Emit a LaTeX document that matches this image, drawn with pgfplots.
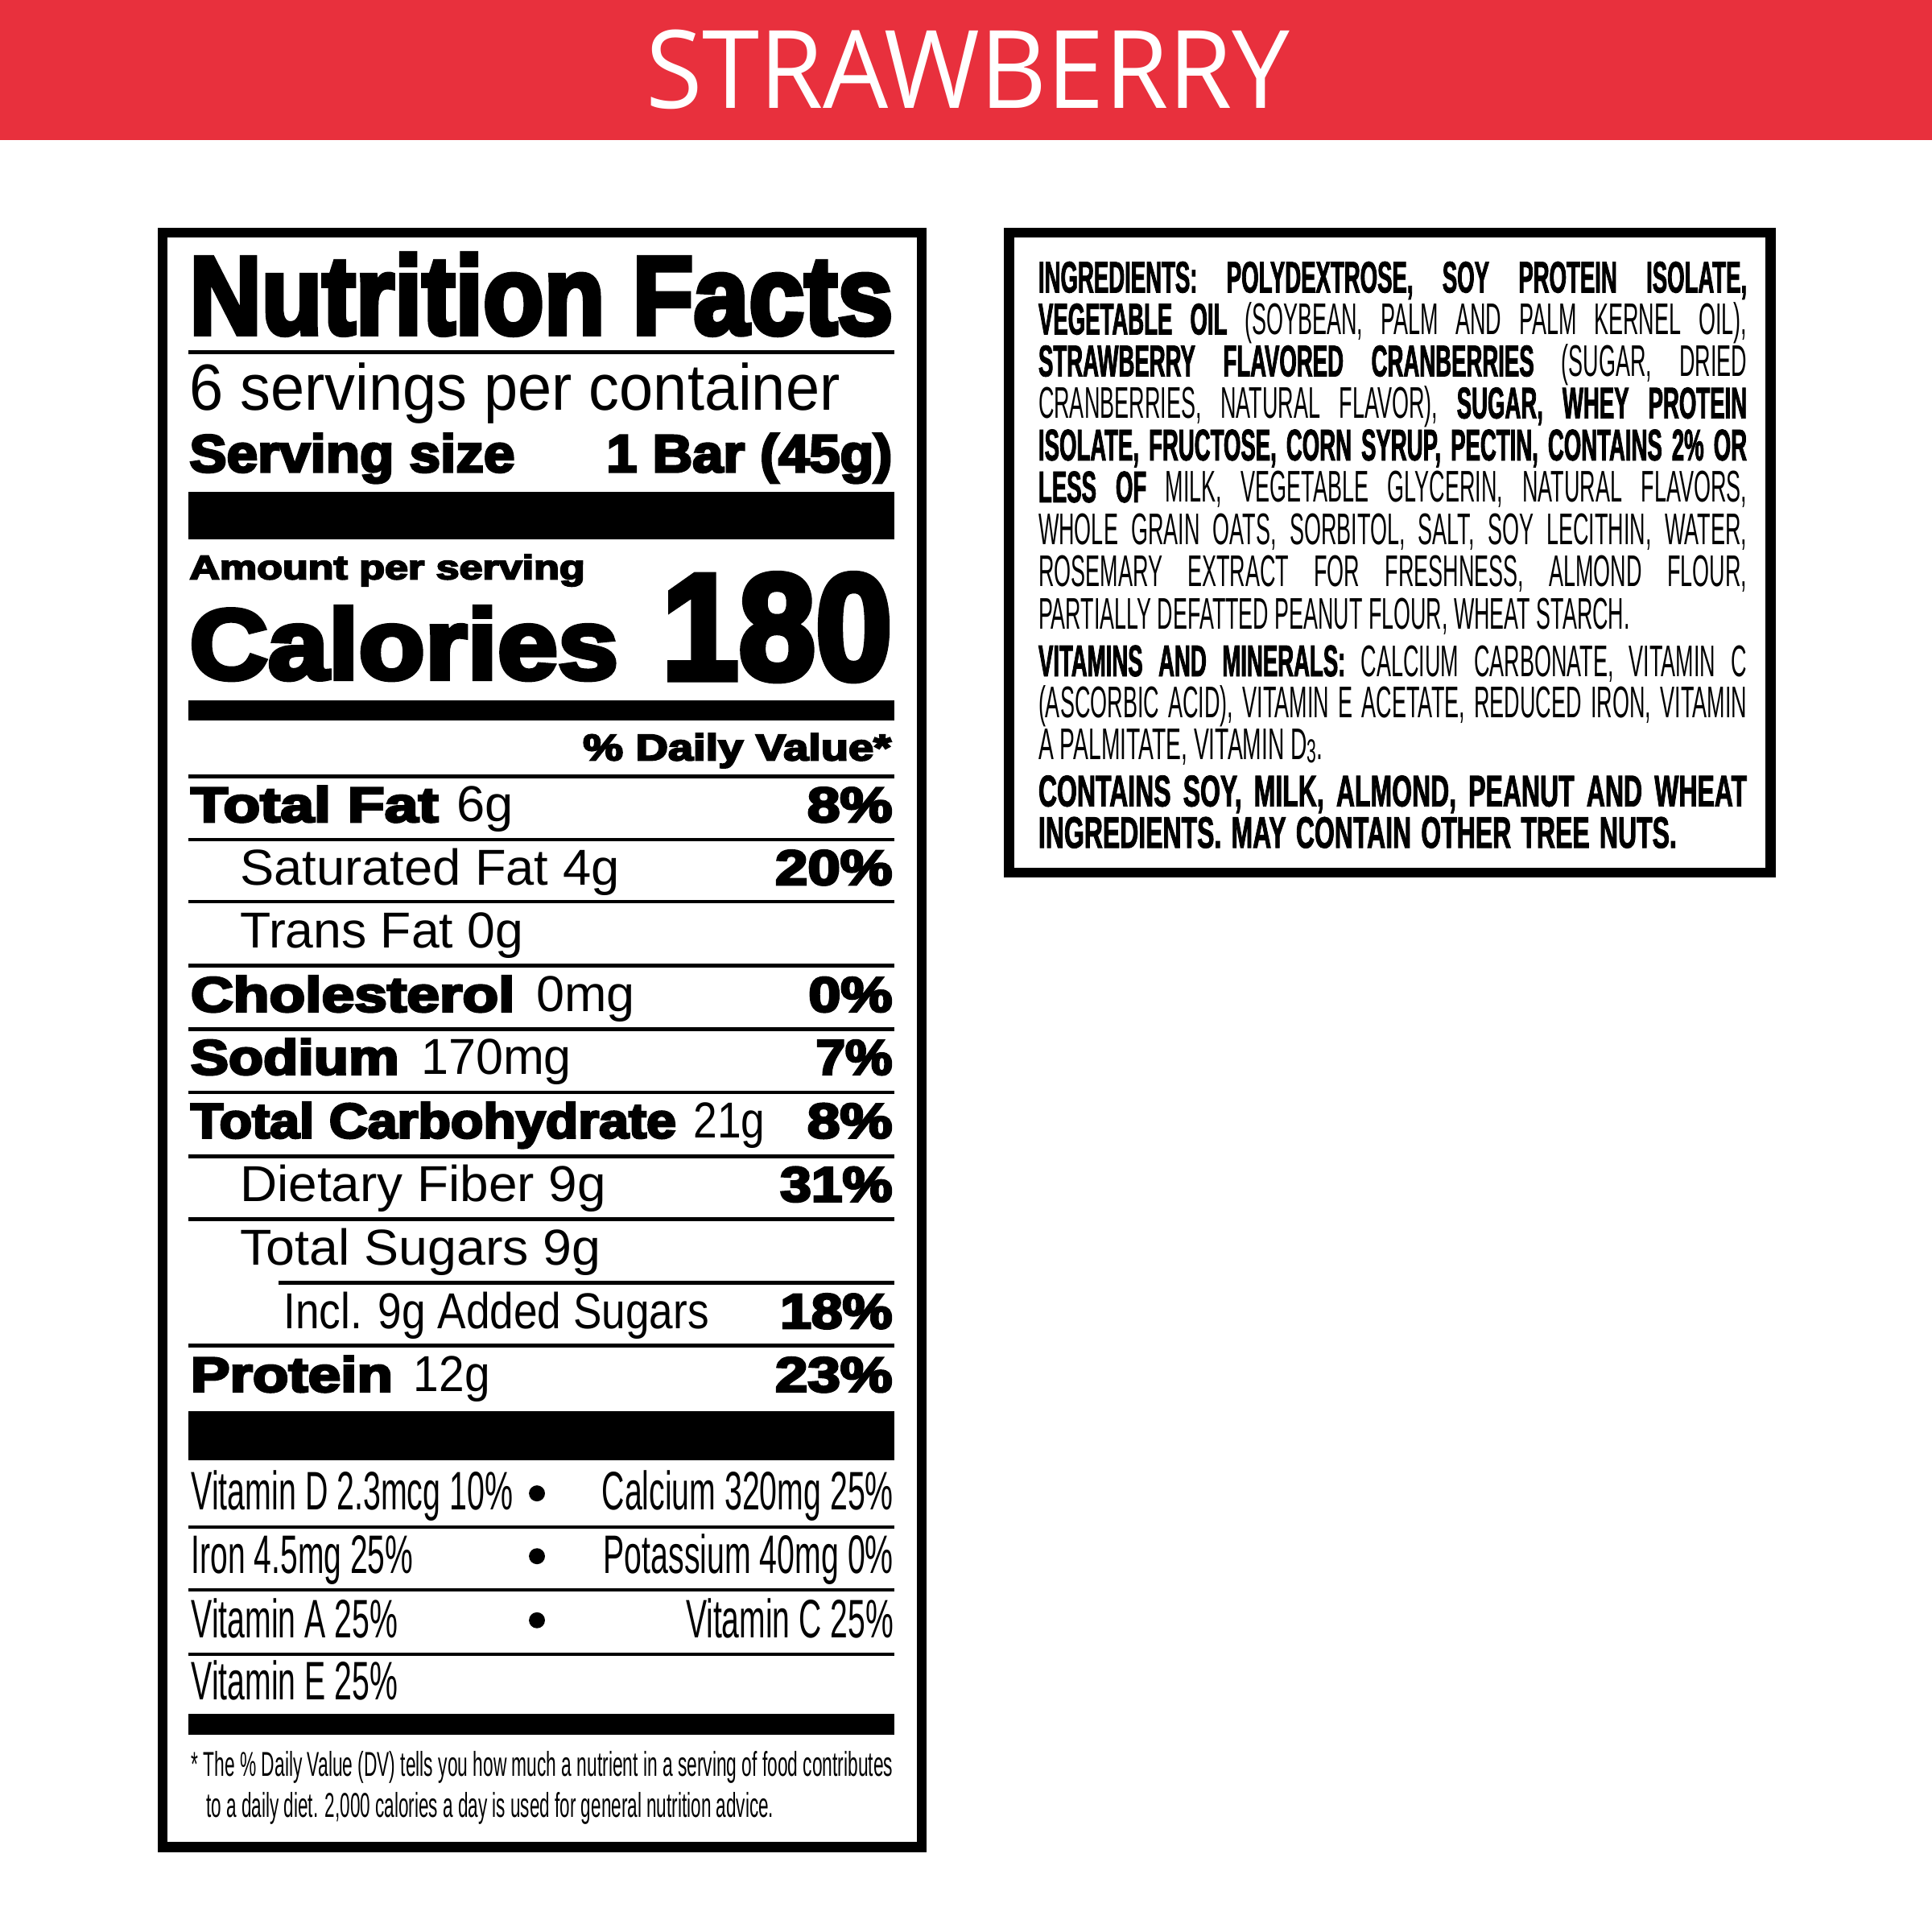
\documentclass[border=0pt]{standalone}
\usepackage{pgfplots}
\pgfplotsset{compat=1.18}
\usepackage{fontspec}
\usepackage{graphicx}
\setmainfont{Liberation Sans}
\newfontfamily\hdr{Open Sans}
\newfontfamily\heavy{Liberation Sans}[FakeBold=4.5]
\newfontfamily\ing{Liberation Sans}[FakeStretch=0.49]
\newfontfamily\ingb{Liberation Sans}[FakeStretch=0.5, FakeBold=1.5]
\newfontfamily\ingc{Liberation Sans}[FakeStretch=0.58, FakeBold=1.5]
\definecolor{berry}{RGB}{232,48,61}

% 1 px of the 1568 px reference = 0.25pt
\newlength\pxu \setlength\pxu{0.25pt}
\newcommand\fs[1]{\fontsize{\fpeval{#1/4}pt}{\fpeval{#1*0.3}pt}\selectfont}
\newcommand\fit[2]{\resizebox{#1\pxu}{\height}{#2}}
\newcommand\jl[1]{\makebox[575\pxu][s]{\ing\fs{36}#1}}
\newcommand\B[1]{{\ingb\bfseries #1}}
\newcommand\hv{\heavy\bfseries}

\tikzset{
  L/.style={anchor=base west, inner sep=0pt},
  R/.style={anchor=base east, inner sep=0pt},
}

\begin{document}
\begin{tikzpicture}
\begin{axis}[
    width=392pt, height=392pt, scale only axis,
    xmin=0, xmax=1568, ymin=0, ymax=1568,
    y dir=reverse,
    hide axis, clip=false,
  ]
  % background and banner
  \fill[white] (0,0) rectangle (1568,1568);
  \fill[berry] (0,0) rectangle (1568,113.7);
  \node[anchor=base, inner sep=0pt] at (785.5,88) {\fit{523}{\hdr\fs{88}\color{white}STRAWBERRY}};

  % ---------- nutrition facts box ----------
  \draw[line width=2pt] (132,189) rectangle (748,1499);

  % rules
  \fill (153,284.5) rectangle (726,287.5);
  \fill (153,399) rectangle (726,438);
  \fill (153,568.7) rectangle (726,584.7);
  \fill (153,628.5) rectangle (726,632);
  \fill (153,680) rectangle (726,683);
  \fill (153,730.2) rectangle (726,733.2);
  \fill (153,782.1) rectangle (726,785.1);
  \fill (153,833.7) rectangle (726,836.7);
  \fill (153,885) rectangle (726,888);
  \fill (153,936.9) rectangle (726,939.9);
  \fill (153,988.1) rectangle (726,991.1);
  \fill (226,1039.4) rectangle (726,1042.4);
  \fill (153,1090.6) rectangle (726,1093.6);
  \fill (153,1145.5) rectangle (726,1185);
  \fill (153,1237.9) rectangle (726,1240.9);
  \fill (153,1288.9) rectangle (726,1291.9);
  \fill (153,1341.1) rectangle (726,1344.1);
  \fill (153,1391) rectangle (726,1408);

  % header lines
  \node[L] at (153,271) {\fit{571}{\hv\fs{90}Nutrition Facts}};
  \node[L] at (153,333) {\fit{528}{\fs{53}6 servings per container}};
  \node[L] at (153,383) {\fit{264}{\hv\fs{43}Serving size}};
  \node[R] at (725,383) {\fit{232}{\hv\fs{43}1 Bar (45g)}};
  \node[L] at (153,470) {\fit{321}{\hv\fs{27.5}Amount per serving}};
  \node[L] at (153,551) {\fit{348}{\hv\fs{81}Calories}};
  \node[R] at (725,551) {\fit{187}{\hv\fs{122}180}};
  \node[R] at (724,617) {\fit{250}{\hv\fs{30}\% Daily Value*}};

  % nutrient rows
  \node[L] at (154,667) {\fit{201}{\hv\fs{40}Total Fat}};
  \node[L] at (370,667) {\fit{46}{\fs{41}6g}};
  \node[R] at (725,667) {\fit{69}{\hv\fs{40}8\%}};

  \node[L] at (194,718) {\fit{308}{\fs{41}Saturated Fat 4g}};
  \node[R] at (725,718) {\fit{95}{\hv\fs{40}20\%}};

  \node[L] at (194,769.5) {\fit{230}{\fs{41}Trans Fat 0g}};

  \node[L] at (154,821) {\fit{263}{\hv\fs{40}Cholesterol}};
  \node[L] at (434.5,821) {\fit{80}{\fs{41}0mg}};
  \node[R] at (725,821) {\fit{68}{\hv\fs{40}0\%}};

  \node[L] at (154,872) {\fit{169}{\hv\fs{40}Sodium}};
  \node[L] at (341,872) {\fit{122}{\fs{41}170mg}};
  \node[R] at (725,872) {\fit{62}{\hv\fs{40}7\%}};

  \node[L] at (154,923.5) {\fit{394}{\hv\fs{40}Total Carbohydrate}};
  \node[L] at (562,923.5) {\fit{58}{\fs{41}21g}};
  \node[R] at (725,923.5) {\fit{69}{\hv\fs{40}8\%}};

  \node[L] at (194,975) {\fit{297}{\fs{41}Dietary Fiber 9g}};
  \node[R] at (725,975) {\fit{91}{\hv\fs{40}31\%}};

  \node[L] at (194,1026.5) {\fit{293}{\fs{41}Total Sugars 9g}};

  \node[L] at (229.6,1078) {\fit{345}{\fs{41}Incl. 9g Added Sugars}};
  \node[R] at (725,1078) {\fit{91}{\hv\fs{40}18\%}};

  \node[L] at (154,1129.5) {\fit{164}{\hv\fs{40}Protein}};
  \node[L] at (335,1129.5) {\fit{62}{\fs{41}12g}};
  \node[R] at (725,1129.5) {\fit{95}{\hv\fs{40}23\%}};

  % vitamins and minerals
  \node[L] at (154.5,1225.6) {\fit{261}{\fs{44}Vitamin D 2.3mcg 10\%}};
  \node[R] at (725.9,1225.6) {\fit{236.6}{\fs{44}Calcium 320mg 25\%}};
  \node[L] at (154.5,1277) {\fit{180}{\fs{44}Iron 4.5mg 25\%}};
  \node[R] at (725.9,1277) {\fit{235.4}{\fs{44}Potassium 40mg 0\%}};
  \node[L] at (154.5,1329) {\fit{167.6}{\fs{44}Vitamin A 25\%}};
  \node[R] at (725.9,1329) {\fit{168.4}{\fs{44}Vitamin C 25\%}};
  \node[L] at (154.5,1379.6) {\fit{167.6}{\fs{44}Vitamin E 25\%}};
  \fill (435.8,1212) circle[radius=1.625pt];
  \fill (435.8,1263) circle[radius=1.625pt];
  \fill (435.8,1315) circle[radius=1.625pt];

  % footnote
  \node[L] at (154.5,1441.7) {\fit{569.4}{\fs{28}* The \% Daily Value (DV) tells you how much a nutrient in a serving of food contributes}};
  \node[L] at (166.7,1475) {\fit{460.6}{\fs{28}to a daily diet. 2,000 calories a day is used for general nutrition advice.}};

  % ---------- ingredients box ----------
  \draw[line width=2pt] (819,189) rectangle (1437,708);
  \node[L] at (842,237.4) {\jl{\B{INGREDIENTS: POLYDEXTROSE, SOY PROTEIN ISOLATE,}}};
  \node[L] at (842,271.4) {\jl{\B{VEGETABLE OIL} (SOYBEAN, PALM AND PALM KERNEL OIL),}};
  \node[L] at (842,305.4) {\jl{\B{STRAWBERRY FLAVORED CRANBERRIES} (SUGAR, DRIED}};
  \node[L] at (842,339.5) {\jl{CRANBERRIES, NATURAL FLAVOR), \B{SUGAR, WHEY PROTEIN}}};
  \node[L] at (842,373.6) {\jl{\B{ISOLATE, FRUCTOSE, CORN SYRUP, PECTIN, CONTAINS 2\% OR}}};
  \node[L] at (842,407.6) {\jl{\B{LESS OF} MILK, VEGETABLE GLYCERIN, NATURAL FLAVORS,}};
  \node[L] at (842,441.7) {\jl{WHOLE GRAIN OATS, SORBITOL, SALT, SOY LECITHIN, WATER,}};
  \node[L] at (842,475.7) {\jl{ROSEMARY EXTRACT FOR FRESHNESS, ALMOND FLOUR,}};
  \node[L] at (842,510.5) {\fit{480}{\ing\fs{36}PARTIALLY DEFATTED PEANUT FLOUR, WHEAT STARCH.}};
  \node[L] at (842,548.8) {\jl{\B{VITAMINS AND MINERALS:} CALCIUM CARBONATE, VITAMIN C}};
  \node[L] at (842,582.5) {\jl{(ASCORBIC ACID), VITAMIN E ACETATE, REDUCED IRON, VITAMIN}};
  \node[L] at (842,616.7) {\fit{231}{\ing\fs{36}A PALMITATE, VITAMIN D\raisebox{-0.6pt}{\fs{27}3}.}};
  \node[L] at (842,654.4) {\makebox[575\pxu][s]{\ingc\bfseries\fs{36}CONTAINS SOY, MILK, ALMOND, PEANUT AND WHEAT}};
  \node[L] at (842,688.1) {\makebox[518\pxu][s]{\ingc\bfseries\fs{36}INGREDIENTS. MAY CONTAIN OTHER TREE NUTS.}};
\end{axis}
\end{tikzpicture}
\end{document}
